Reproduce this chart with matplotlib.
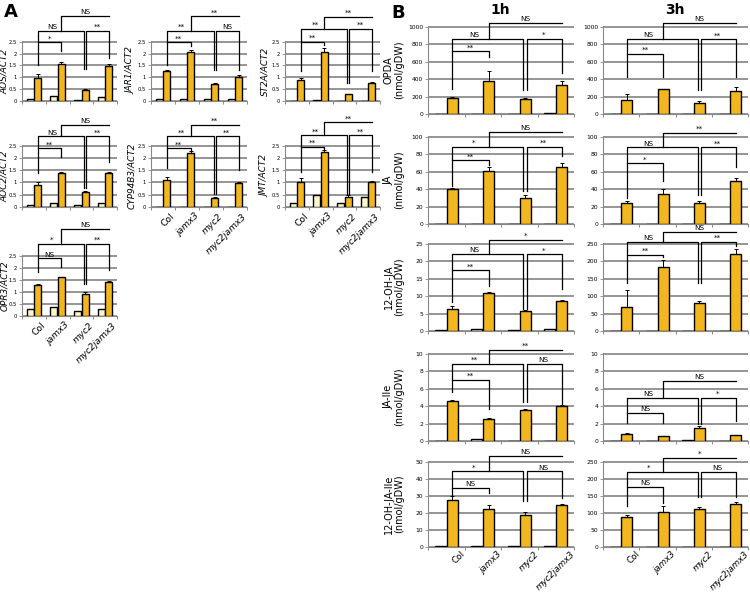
import matplotlib
matplotlib.use('Agg')
import matplotlib.pyplot as plt
import numpy as np

genotypes = ['Col', 'jamx3', 'myc2', 'myc2jamx3']

# ---------------- Panel A : relative expression (mock, treated, error) ----------------
aos_mock = [0.07, 0.22, 0.06, 0.18]
aos_treat = [0.95, 1.55, 0.48, 1.48]
aos_err = [0.18, 0.08, 0.02, 0.10]

jar1_mock = [0.10, 0.08, 0.08, 0.07]
jar1_treat = [1.26, 2.07, 0.73, 1.00]
jar1_err = [0.03, 0.10, 0.02, 0.10]

st2a_mock = [0.02, 0.03, 0.02, 0.02]
st2a_treat = [0.87, 2.08, 0.28, 0.75]
st2a_err = [0.10, 0.15, 0.02, 0.07]

aoc2_mock = [0.07, 0.15, 0.07, 0.15]
aoc2_treat = [0.88, 1.37, 0.63, 1.40]
aoc2_err = [0.12, 0.05, 0.04, 0.03]

cyp_mock = [0.02, 0.02, 0.01, 0.01]
cyp_treat = [1.12, 2.20, 0.38, 0.99]
cyp_err = [0.10, 0.07, 0.02, 0.02]

jmt_mock = [0.18, 0.47, 0.15, 0.40]
jmt_treat = [1.02, 2.25, 0.42, 1.04]
jmt_err = [0.17, 0.07, 0.07, 0.02]

opr3_mock = [0.28, 0.38, 0.22, 0.28]
opr3_treat = [1.30, 1.60, 0.92, 1.43]
opr3_err = [0.03, 0.02, 0.07, 0.03]

# ---------------- Panel B : hormone contents (nmol/gDW) ----------------
opda1_mock = [3, 3, 3, 8]
opda1 = [180, 375, 170, 335]
opda1_err = [10, 120, 10, 40]
opda3_mock = [5, 5, 5, 5]
opda3 = [165, 285, 125, 270]
opda3_err = [60, 5, 20, 35]

ja1_mock = [0.5, 0.5, 0.5, 0.5]
ja1 = [40, 61, 30, 65]
ja1_err = [1.5, 4, 3, 5]
ja3_mock = [0.4, 0.4, 0.4, 0.4]
ja3 = [24, 35, 24, 49]
ja3_err = [3, 5, 3, 4]

ohja1_mock = [0.4, 0.7, 0.3, 0.5]
ohja1 = [6.2, 10.9, 5.8, 8.5]
ohja1_err = [1.0, 0.3, 0.2, 0.3]
ohja3_mock = [1, 1, 1, 1]
ohja3 = [70, 185, 80, 222]
ohja3_err = [48, 20, 7, 15]

jaile1_mock = [0.05, 0.2, 0.05, 0.05]
jaile1 = [4.6, 2.5, 3.6, 4.0]
jaile1_err = [0.1, 0.1, 0.1, 0.1]
jaile3_mock = [0.05, 0.05, 0.15, 0.05]
jaile3 = [0.85, 0.55, 1.5, 0.65]
jaile3_err = [0.05, 0.05, 0.2, 0.05]

ohjaile1_mock = [0.3, 0.3, 0.3, 0.3]
ohjaile1 = [27.5, 22.5, 19, 24.5]
ohjaile1_err = [2.5, 2.5, 1.5, 1]
ohjaile3_mock = [1, 1, 1, 1]
ohjaile3 = [88, 102, 112, 127]
ohjaile3_err = [5, 18, 6, 5]

GOLD = '#F2B61E'
PALE = '#FFF6C9'
GRID = '#8c8c8c'

fig = plt.figure(figsize=(7.5, 5.95), dpi=100)
W, H = 750.0, 595.0


def make_ax(x0, x1, y0, y1):
    return fig.add_axes([x0 / W, 1 - y1 / H, (x1 - x0) / W, (y1 - y0) / H])


def bars(ax, mock, treat, err, ymax, step, tick_fs, xlab_fs, xoff, yoff):
    x = np.arange(4)
    ax.set_axisbelow(True)
    ax.bar(x - 0.16, mock, 0.3, color=PALE, edgecolor='black', lw=1.0, zorder=3)
    ax.bar(x + 0.16, treat, 0.3, color=GOLD, edgecolor='black', lw=1.0, zorder=3)
    ax.errorbar(x + 0.16, treat, yerr=[np.zeros(4), err], fmt='none',
                ecolor='black', elinewidth=0.7, capsize=1.2, capthick=0.7, zorder=4)
    ax.set_xlim(-0.5, 3.5)
    ax.set_ylim(0, ymax * 1.012)
    ax.set_yticks(np.arange(0, ymax + step / 2, step))
    ax.yaxis.set_major_formatter(matplotlib.ticker.FormatStrFormatter('%g'))
    ax.grid(axis='y', color=GRID, lw=1.3)
    for s in ['top', 'right']:
        ax.spines[s].set_visible(False)
    for s in ['left', 'bottom']:
        ax.spines[s].set_color('#888888')
        ax.spines[s].set_linewidth(0.8)
    ax.set_xticks(np.arange(-0.5, 4, 1.0))
    ax.set_xticklabels([])
    ax.tick_params(axis='x', length=2.5, width=0.7, color='#888888')
    ax.tick_params(axis='y', length=2, width=0.6, color='#888888',
                   labelsize=tick_fs, pad=1.5)
    if xlab_fs:
        for i, g in enumerate(genotypes):
            ax.text(i + xoff, -yoff, g, transform=ax.get_xaxis_transform(),
                    rotation=45, ha='right', va='top', fontsize=xlab_fs,
                    style='normal' if g == 'Col' else 'italic',
                    rotation_mode='anchor')
    return x + 0.16


def brackets(ax, xg, levels, drops, labels, fs):
    top, mid, low = levels
    dc, dj, dm, dd = drops
    l1, l2, l3, l4 = labels
    xc, xj, xm, xd = xg
    d = 0.045
    kw = dict(color='black', lw=0.9, clip_on=False, zorder=5)
    ax.plot([xc, xj, xj], [low, low, dj], **kw)
    ax.plot([xc, xc, xm - d, xm - d], [dc, mid, mid, dm], **kw)
    ax.plot([xm + d, xm + d, xd, xd], [dm, mid, mid, dd], **kw)
    xt = (xc + xm) / 2
    ax.plot([xt, xt, xd], [mid, top, top], **kw)
    tk = dict(ha='center', va='bottom', fontsize=fs, textcoords='offset points',
              annotation_clip=False, zorder=6)
    ax.annotate(l1, (0.5 * (xc + xj), low), xytext=(0, 0.6), **tk)
    ax.annotate(l2, (xc + 0.3 * (xm - xc), mid), xytext=(0, 0.6), **tk)
    ax.annotate(l3, (0.5 * (xm + xd), mid), xytext=(0, 0.6), **tk)
    ax.annotate(l4, (0.5 * (xt + xd), top), xytext=(0, 0.6), **tk)


# ---------------- Panel A layout ----------------
colA = [(22, 117), (151, 247), (285, 380)]
rowA = [(41, 101), (145, 207), (255, 316)]

panelA = [
    (0, 0, 'AOS/ACT2', aos_mock, aos_treat, aos_err, (3.58, 2.96, 2.47), (1.5, 2.12, 1.37, 1.83), ('*', 'NS', '**', 'NS'), False),
    (1, 0, 'JAR1/ACT2', jar1_mock, jar1_treat, jar1_err, (3.58, 2.96, 2.47), (1.5, 2.3, 1.3, 1.3), ('**', '**', 'NS', '**'), False),
    (2, 0, 'ST2A/ACT2', st2a_mock, st2a_treat, st2a_err, (3.54, 3.05, 2.5), (1.25, 2.37, 0.75, 1.25), ('**', '**', '**', '**'), False),
    (0, 1, 'AOC2/ACT2', aoc2_mock, aoc2_treat, aoc2_err, (3.35, 2.88, 2.4), (1.38, 2.06, 0.77, 1.82), ('**', 'NS', '**', 'NS'), False),
    (1, 1, 'CYP94B3/ACT2', cyp_mock, cyp_treat, cyp_err, (3.35, 2.88, 2.4), (1.58, 2.3, 0.52, 1.5), ('**', '**', '**', '**'), True),
    (2, 1, 'JMT/ACT2', jmt_mock, jmt_treat, jmt_err, (3.45, 2.92, 2.46), (1.42, 2.38, 0.55, 1.42), ('**', '**', '**', '**'), True),
    (0, 2, 'OPR3/ACT2', opr3_mock, opr3_treat, opr3_err, (3.6, 2.99, 2.39), (1.81, 2.02, 1.33, 1.91), ('NS', '*', '**', 'NS'), True),
]

for c, r, lab, mk, tr, er, lev, drp, lbl, xl in panelA:
    x0, x1 = colA[c]
    y0, y1 = rowA[r]
    ax = make_ax(x0, x1, y0, y1)
    xg = bars(ax, mk, tr, er, 2.5, 0.5, 3.8, 6.6 if xl else None, 0.3, 0.08)
    brackets(ax, xg, lev, drp, lbl, 5.2)
    ax.set_ylabel(lab, fontsize=6.4, style='italic')
    ax.yaxis.set_label_coords(-0.135 if c == 0 else -0.16, 0.5)

# ---------------- Panel B layout ----------------
colB = [(428, 574), (603, 748)]
rowB = [(26, 114), (136, 224), (243, 331), (353, 441), (461, 547)]

panelB = [
    (0, 0, 'OPDA', opda1_mock, opda1, opda1_err, 1000, 200, (1051, 864, 719), (284, 659, 273, 466), ('**', 'NS', '*', 'NS')),
    (1, 0, 'OPDA', opda3_mock, opda3, opda3_err, 1000, 200, (1049, 860, 690), (424, 424, 280, 424), ('**', 'NS', '**', 'NS')),
    (0, 1, 'JA', ja1_mock, ja1, ja1_err, 100, 20, (106, 88.6, 73.5), (44, 68, 37.8, 78), ('**', '*', '**', 'NS')),
    (1, 1, 'JA', ja3_mock, ja3, ja3_err, 100, 20, (105, 88, 70), (30, 50, 33, 65), ('*', 'NS', '**', '**')),
    (0, 2, '12-OH-JA', ohja1_mock, ohja1, ohja1_err, 25, 5, (26.2, 22.1, 17.5), (8.3, 12.8, 6.4, 12.1), ('**', 'NS', '*', '*')),
    (1, 2, '12-OH-JA', ohja3_mock, ohja3, ohja3_err, 250, 50, (285, 257, 219), (139, 212, 139, 245), ('**', 'NS', '**', 'NS')),
    (0, 3, 'JA-Ile', jaile1_mock, jaile1, jaile1_err, 10, 2, (10.5, 8.85, 7.06), (5.6, 3.66, 4.5, 4.3), ('**', '**', 'NS', '**')),
    (1, 3, 'JA-Ile', jaile3_mock, jaile3, jaile3_err, 10, 2, (6.9, 5.0, 3.2), (2.1, 2.1, 1.9, 2.3), ('NS', 'NS', '*', 'NS')),
    (0, 4, '12-OH-JA-Ile', ohjaile1_mock, ohjaile1, ohjaile1_err, 50, 10, (53.4, 44.5, 34.7), (29.8, 31.8, 26.9, 28.8), ('NS', '*', 'NS', 'NS')),
    (1, 4, '12-OH-JA-Ile', ohjaile3_mock, ohjaile3, ohjaile3_err, 250, 50, (263, 222, 176), (122, 128, 148, 148), ('NS', '*', 'NS', '*')),
]

for c, r, lab, mk, tr, er, ymax, step, lev, drp, lbl in panelB:
    x0, x1 = colB[c]
    y0, y1 = rowB[r]
    ax = make_ax(x0, x1, y0, y1)
    xg = bars(ax, mk, tr, er, ymax, step, 4.3, 6.3 if r == 4 else None, 0.4, 0.03)
    brackets(ax, xg, lev, drp, lbl, 5.2)
    if c == 0:
        ax.set_ylabel(lab + '\n(nmol/gDW)', fontsize=7, linespacing=1.05)
        ax.yaxis.set_label_coords(-0.165, 0.5)

fig.text(4 / W, 1 - 12 / H, 'A', fontsize=13, fontweight='bold', va='center')
fig.text(391 / W, 1 - 13 / H, 'B', fontsize=13, fontweight='bold', va='center')
fig.text(500 / W, 1 - 10 / H, '1h', fontsize=10, fontweight='bold', ha='center', va='center')
fig.text(675 / W, 1 - 10 / H, '3h', fontsize=10, fontweight='bold', ha='center', va='center')

fig.savefig('out.png', dpi=100)
